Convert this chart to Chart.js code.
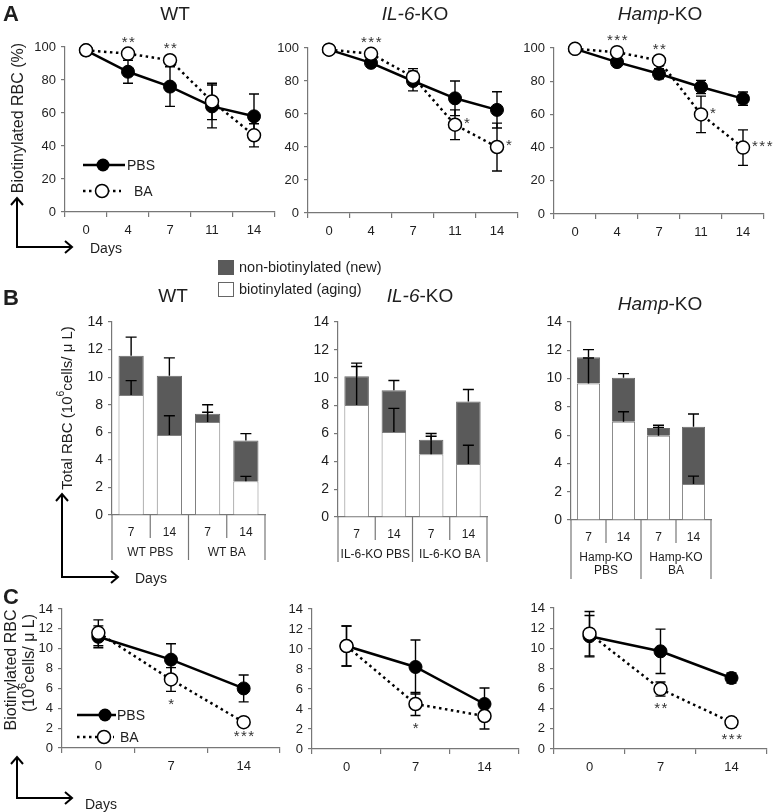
<!DOCTYPE html>
<html>
<head>
<meta charset="utf-8">
<script src="https://cdn.jsdelivr.net/npm/chart.js@4"></script>
<style>
  body { margin: 0; width: 774px; height: 812px; overflow: hidden; background: #fff; position: relative; }
  canvas { position: absolute; }
  svg { position: absolute; left: 0; top: 0; }
</style>
</head>
<body>
<canvas id="aWT"></canvas>
<canvas id="aIL"></canvas>
<canvas id="aHamp"></canvas>
<canvas id="bWT"></canvas>
<canvas id="bIL"></canvas>
<canvas id="bHamp"></canvas>
<canvas id="cWT"></canvas>
<canvas id="cIL"></canvas>
<canvas id="cHamp"></canvas>

<svg width="774" height="812" viewBox="0 0 774 812" font-family="Liberation Sans, Arial, sans-serif" fill="#1e1e1e">
  <!-- panel letters -->
  <text x="3" y="13" font-size="22" font-weight="bold" dominant-baseline="central">A</text>
  <text x="3" y="297" font-size="22" font-weight="bold" dominant-baseline="central">B</text>
  <text x="3" y="596" font-size="22" font-weight="bold" dominant-baseline="central">C</text>

  <!-- titles -->
  <g font-size="19" text-anchor="middle" dominant-baseline="central">
    <text x="175" y="13">WT</text>
    <text x="415" y="13"><tspan font-style="italic">IL-6</tspan>-KO</text>
    <text x="660" y="13"><tspan font-style="italic">Hamp</tspan>-KO</text>
    <text x="173" y="295">WT</text>
    <text x="420" y="295"><tspan font-style="italic">IL-6</tspan>-KO</text>
    <text x="660" y="303"><tspan font-style="italic">Hamp</tspan>-KO</text>
  </g>

  <!-- axis titles -->
  <g text-anchor="middle" dominant-baseline="central">
    <text font-size="16" transform="translate(17,118) rotate(-90)">Biotinylated RBC (%)</text>
    <text font-size="15" transform="translate(66,408) rotate(-90)">Total RBC (10<tspan dy="-6" font-size="10.5">6</tspan><tspan dy="6">cells/ μ L)</tspan></text>
    <text font-size="16" transform="translate(10,670) rotate(-90)">Biotinylated RBC</text>
    <text font-size="16" transform="translate(28,663) rotate(-90)">(10<tspan dy="-6" font-size="11">6</tspan><tspan dy="6">cells/ μ L)</tspan></text>
  </g>

  <!-- "Days" arrows -->
  <g stroke="#000" stroke-width="2" fill="none">
    <polyline points="17,198 17,247 72,247"/>
    <polyline points="11,205 17,198 23,205"/>
    <polyline points="65,241 72,247 65,253"/>
    <polyline points="62,494 62,577 118,577"/>
    <polyline points="56,501 62,494 68,501"/>
    <polyline points="111,571 118,577 111,583"/>
    <polyline points="17,757 17,798 72,798"/>
    <polyline points="11,764 17,757 23,764"/>
    <polyline points="65,792 72,798 65,804"/>
  </g>
  <g font-size="14" dominant-baseline="central">
    <text x="90" y="248">Days</text>
    <text x="135" y="578">Days</text>
    <text x="85" y="804">Days</text>
  </g>

  <!-- legend A -->
  <line x1="83" y1="165" x2="125" y2="165" stroke="#000" stroke-width="2.5"/>
  <circle cx="103" cy="165" r="6.5" fill="#000"/>
  <line x1="83" y1="191" x2="121" y2="191" stroke="#000" stroke-width="2.5" stroke-dasharray="2.5 3.5"/>
  <circle cx="102" cy="191" r="6.5" fill="#fff" stroke="#000" stroke-width="1.5"/>
  <text x="127" y="165" font-size="14" dominant-baseline="central">PBS</text>
  <text x="134" y="191" font-size="14" dominant-baseline="central">BA</text>

  <!-- legend B -->
  <rect x="218.5" y="260.5" width="15" height="14" fill="#5a5a5a" stroke="#5a5a5a"/>
  <rect x="218.5" y="282.5" width="15" height="14" fill="#fff" stroke="#666"/>
  <text x="239" y="267" font-size="14.5" dominant-baseline="central">non-biotinylated (new)</text>
  <text x="239" y="289" font-size="14.5" dominant-baseline="central">biotinylated (aging)</text>

  <!-- legend C -->
  <line x1="77" y1="715" x2="116" y2="715" stroke="#000" stroke-width="2.5"/>
  <circle cx="105" cy="715" r="6.5" fill="#000"/>
  <line x1="77" y1="737" x2="114" y2="737" stroke="#000" stroke-width="2.5" stroke-dasharray="2.5 3.5"/>
  <circle cx="104" cy="737" r="6.5" fill="#fff" stroke="#000" stroke-width="1.5"/>
  <text x="117" y="715" font-size="14" dominant-baseline="central">PBS</text>
  <text x="120" y="737" font-size="14" dominant-baseline="central">BA</text>
</svg>

<script>
// ---- data ----
const daysA = ['0', '4', '7', '11', '14'];
const daysC = ['0', '7', '14'];
const barDays = ['7', '14', '7', '14'];

// A: biotinylated RBC remaining (%)
const aWtPbs = [98, 85, 76, 64, 58];
const aWtPbsErr = [0, 7, 12, 13, 13.5];
const aWtBa = [98, 96, 92, 67, 46.5];
const aWtBaErr = [0, 0, 0, 11, 7];
const aWtSig = ['', '**', '**', '', ''];

const aIlPbs = [99, 91, 80, 69.5, 62.5];
const aIlPbsErr = [0, 0, 6, 10.5, 11];
const aIlBa = [99, 96.5, 82.5, 53.5, 40];
const aIlBaErr = [0, 0, 5, 9, 14.5];
const aIlSig = ['', '***', '', '*', '*'];

const aHampPbs = [99.5, 91.5, 84.5, 76.5, 69.5];
const aHampPbsErr = [0, 0, 3, 4, 4];
const aHampBa = [99.5, 97.5, 92.5, 60, 40];
const aHampBaErr = [0, 0, 0, 11, 10.7];
const aHampSig = ['', '***', '**', '*', '***'];

// B: total RBC split into biotinylated / non-biotinylated (10^6 cells/uL)
const bWtBio = [8.7, 5.8, 6.75, 2.45];
const bWtBioErr = [1.05, 1.4, 0.7, 0.35];
const bWtNew = [2.85, 4.3, 0.6, 2.95];
const bWtTotErr = [1.35, 1.3, 0.65, 0.5];
const bWtGroups = [['WT PBS'], ['WT BA']];

const bIlBio = [8.05, 6.1, 4.5, 3.8];
const bIlBioErr = [2.75, 1.7, 1.3, 1.35];
const bIlNew = [2.05, 3.0, 1.05, 4.5];
const bIlTotErr = [0.95, 0.7, 0.45, 0.85];
const bIlGroups = [['IL-6-KO PBS'], ['IL-6-KO BA']];

const bHampBio = [9.65, 6.95, 5.95, 2.55];
const bHampBioErr = [1.8, 0.7, 0.6, 0.55];
const bHampNew = [1.85, 3.1, 0.55, 4.05];
const bHampTotErr = [0.55, 0.3, 0.2, 0.9];
const bHampGroups = [['Hamp-KO', 'PBS'], ['Hamp-KO', 'BA']];

// C: biotinylated RBC (10^6 cells/uL)
const cWtPbs = [11.2, 8.9, 6.0];
const cWtPbsErr = [1.1, 1.6, 1.35];
const cWtBa = [11.6, 6.9, 2.6];
const cWtBaErr = [1.3, 1.2, 0.2];
const cWtSig = ['', '*', '***'];

const cIlPbs = [10.3, 8.2, 4.5];
const cIlPbsErr = [2.0, 2.7, 1.6];
const cIlBa = [10.3, 4.5, 3.3];
const cIlBaErr = [2.0, 1.15, 1.3];
const cIlSig = ['', '*', ''];

const cHampPbs = [11.2, 9.7, 7.05];
const cHampPbsErr = [2.05, 2.2, 0.5];
const cHampBa = [11.45, 5.95, 2.65];
const cHampBaErr = [2.2, 0.7, 0.45];
const cHampSig = ['', '**', '***'];

// ---- look ----
const AXIS = '#777';
const INK = '#1e1e1e';
const DARK = '#5a5a5a';
const FONT = '"Liberation Sans", Arial, sans-serif';
const YW = 45, PT = 25, PR = 30;

// size and place a canvas so its chart area lands on the given box
function place(id, area, xh) {
  const c = document.getElementById(id);
  const w = area.r - area.l + YW + PR;
  const h = area.b - area.t + PT + xh;
  c.width = w; c.height = h;
  c.style.width = w + 'px'; c.style.height = h + 'px';
  c.style.left = (area.l - YW) + 'px';
  c.style.top = (area.t - PT) + 'px';
  return c;
}

function drawErrors(chart, mode) {
  const ctx = chart.ctx, ys = chart.scales.y;
  const unit = ys.getPixelForValue(0) - ys.getPixelForValue(1);
  chart.data.datasets.forEach((ds, di) => {
    if (!ds.errors || (ds.errMode || 'both') !== mode) return;
    const meta = chart.getDatasetMeta(di);
    const cap = ds.capHalf || 5;
    ctx.save();
    ctx.strokeStyle = '#000';
    ctx.lineWidth = 1.4;
    meta.data.forEach((el, i) => {
      const e = ds.errors[i];
      if (!e) return;
      const d = e * unit;
      const y1 = el.y - d;
      const y2 = mode === 'up' ? el.y : el.y + d;
      ctx.beginPath();
      ctx.moveTo(el.x, y1); ctx.lineTo(el.x, y2);
      ctx.moveTo(el.x - cap, y1); ctx.lineTo(el.x + cap, y1);
      if (mode === 'both') { ctx.moveTo(el.x - cap, y2); ctx.lineTo(el.x + cap, y2); }
      ctx.stroke();
    });
    ctx.restore();
  });
}

const errorBars = {
  id: 'errorBars',
  beforeDatasetsDraw(chart) { drawErrors(chart, 'both'); },
  afterDatasetsDraw(chart) { drawErrors(chart, 'up'); }
};

function sigPlugin(where) {
  return {
    id: 'sig',
    afterDatasetsDraw(chart) {
      const ctx = chart.ctx, ys = chart.scales.y;
      const unit = ys.getPixelForValue(0) - ys.getPixelForValue(1);
      chart.data.datasets.forEach((ds, di) => {
        if (!ds.sig) return;
        const meta = chart.getDatasetMeta(di);
        ctx.save();
        ctx.font = '15px ' + FONT;
        ctx.fillStyle = '#333';
        ctx.letterSpacing = '1.5px';
        ctx.textBaseline = 'middle';
        meta.data.forEach((el, i) => {
          if (!ds.sig[i]) return;
          const p = where(i, el, (ds.errors[i] || 0) * unit);
          ctx.textAlign = p.align;
          ctx.fillText(ds.sig[i], p.x, p.y);
        });
        ctx.restore();
      });
    }
  };
}

const sigA = (i, el) => i <= 2
  ? { x: el.x + 1, y: el.y - 11, align: 'center' }
  : { x: el.x + 9, y: el.y - 1, align: 'left' };
const sigC = (i, el, d) => ({ x: el.x + 1, y: el.y + d + 13, align: 'center' });

// category boxes and group names under the bar charts
function boxPlugin(groups) {
  return {
    id: 'box',
    afterDraw(chart) {
      const { ctx, chartArea: a } = chart;
      const n = chart.data.labels.length;
      const step = (a.right - a.left) / n;
      const lines = Math.max(...groups.map(g => g.length));
      const deep = a.bottom + 45 + (lines - 1) * 14;
      ctx.save();
      ctx.strokeStyle = AXIS;
      ctx.lineWidth = 1.2;
      for (let k = 0; k <= n; k++) {
        const xx = a.left + k * step;
        ctx.beginPath();
        ctx.moveTo(xx, a.bottom);
        ctx.lineTo(xx, k % 2 === 0 ? deep : a.bottom + 23);
        ctx.stroke();
      }
      ctx.fillStyle = INK;
      ctx.font = '12px ' + FONT;
      ctx.textAlign = 'center';
      ctx.textBaseline = 'middle';
      groups.forEach((g, gi) => {
        const cx = a.left + (gi * 2 + 1) * step;
        g.forEach((t, li) => ctx.fillText(t, cx, a.bottom + 38 + li * 13));
      });
      ctx.restore();
    }
  };
}

function baseOptions(yMax, yStep, xTicks) {
  return {
    responsive: false,
    animation: false,
    devicePixelRatio: 1,
    events: [],
    layout: { padding: { left: 0, top: PT, right: PR, bottom: 0 }, autoPadding: false },
    plugins: { legend: { display: false }, tooltip: { enabled: false } },
    scales: {
      x: Object.assign({
        type: 'category',
        offset: true,
        border: { color: AXIS, width: 1.2 },
        afterFit: s => { s.height = 30; }
      }, xTicks),
      y: {
        min: 0, max: yMax,
        ticks: { stepSize: yStep, color: INK, font: { family: FONT, size: 13 }, padding: 5, autoSkip: false },
        grid: { drawOnChartArea: false, color: AXIS, tickLength: 4, lineWidth: 1.2 },
        border: { color: AXIS, width: 1.2 },
        afterFit: s => { s.width = YW; }
      }
    }
  };
}

function lineChart(id, area, labels, pbs, pbsErr, ba, baErr, sig, yMax, yStep, where) {
  const canvas = place(id, area, 30);
  const opts = baseOptions(yMax, yStep, {
    grid: { offset: true, drawOnChartArea: false, color: AXIS, tickLength: 5, lineWidth: 1.2 },
    ticks: { color: INK, font: { family: FONT, size: 13 }, padding: 6, autoSkip: false, maxRotation: 0 }
  });
  return new Chart(canvas, {
    type: 'line',
    data: {
      labels,
      datasets: [
        { label: 'PBS', data: pbs, errors: pbsErr, order: 2, clip: false,
          borderColor: '#000', borderWidth: 2.5, pointRadius: 6.5,
          pointBackgroundColor: '#000', pointBorderColor: '#000', pointBorderWidth: 1 },
        { label: 'BA', data: ba, errors: baErr, sig, order: 1, clip: false,
          borderColor: '#000', borderWidth: 2.5, borderDash: [2.5, 3.5], pointRadius: 6.5,
          pointBackgroundColor: '#fff', pointBorderColor: '#000', pointBorderWidth: 1.5 }
      ]
    },
    options: opts,
    plugins: [errorBars, sigPlugin(where)]
  });
}

function barChart(id, area, bio, bioErr, nw, totErr, groups) {
  const canvas = place(id, area, 70);
  const opts = baseOptions(14, 2, {
    stacked: true,
    grid: { display: true, drawOnChartArea: false, drawTicks: false },
    ticks: { color: INK, font: { family: FONT, size: 12 }, padding: 10, autoSkip: false, maxRotation: 0 },
    afterFit: s => { s.height = 70; }
  });
  opts.scales.y.stacked = true;
  opts.scales.y.ticks.font.size = 14;
  return new Chart(canvas, {
    type: 'bar',
    data: {
      labels: barDays,
      datasets: [
        { label: 'biotinylated (aging)', data: bio, errors: bioErr, errMode: 'up', capHalf: 5.5,
          backgroundColor: '#fff', borderColor: '#808080', borderWidth: 1,
          barPercentage: 0.66, categoryPercentage: 1 },
        { label: 'non-biotinylated (new)', data: nw, errors: totErr, errMode: 'up', capHalf: 5.5,
          backgroundColor: DARK, borderColor: '#6a6a6a', borderWidth: 1,
          barPercentage: 0.66, categoryPercentage: 1 }
      ]
    },
    options: opts,
    plugins: [errorBars, boxPlugin(groups)]
  });
}

// ---- panels ----
lineChart('aWT', { l: 65, r: 275, t: 47, b: 212 }, daysA, aWtPbs, aWtPbsErr, aWtBa, aWtBaErr, aWtSig, 100, 20, sigA);
lineChart('aIL', { l: 308, r: 518, t: 48, b: 213 }, daysA, aIlPbs, aIlPbsErr, aIlBa, aIlBaErr, aIlSig, 100, 20, sigA);
lineChart('aHamp', { l: 554, r: 764, t: 48, b: 214 }, daysA, aHampPbs, aHampPbsErr, aHampBa, aHampBaErr, aHampSig, 100, 20, sigA);

barChart('bWT', { l: 112, r: 265, t: 322, b: 515 }, bWtBio, bWtBioErr, bWtNew, bWtTotErr, bWtGroups);
barChart('bIL', { l: 338, r: 487, t: 322, b: 517 }, bIlBio, bIlBioErr, bIlNew, bIlTotErr, bIlGroups);
barChart('bHamp', { l: 571, r: 711, t: 322, b: 520 }, bHampBio, bHampBioErr, bHampNew, bHampTotErr, bHampGroups);

lineChart('cWT', { l: 62, r: 280, t: 609, b: 748 }, daysC, cWtPbs, cWtPbsErr, cWtBa, cWtBaErr, cWtSig, 14, 2, sigC);
lineChart('cIL', { l: 312, r: 519, t: 609, b: 749 }, daysC, cIlPbs, cIlPbsErr, cIlBa, cIlBaErr, cIlSig, 14, 2, sigC);
lineChart('cHamp', { l: 554, r: 767, t: 608, b: 749 }, daysC, cHampPbs, cHampPbsErr, cHampBa, cHampBaErr, cHampSig, 14, 2, sigC);
</script>
</body>
</html>
